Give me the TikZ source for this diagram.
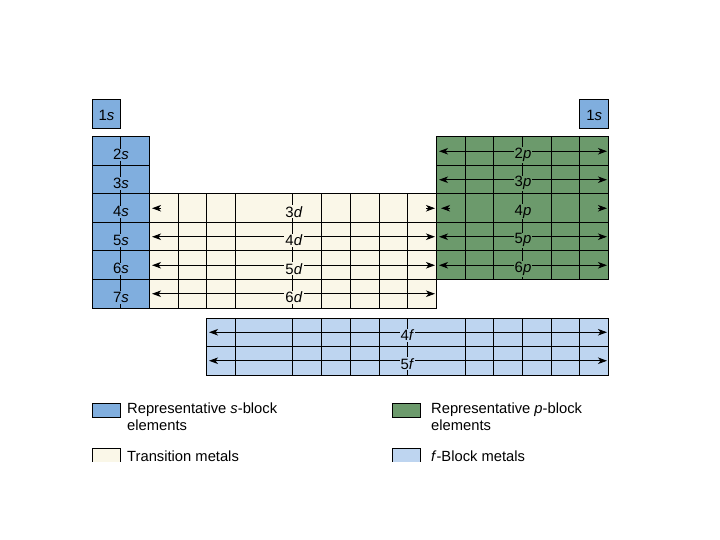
\documentclass[tikz,border=0pt]{standalone}
\usepackage{fontspec}
\setmainfont{Liberation Sans}
\usepackage{xcolor}
\definecolor{sblue}{RGB}{128,174,222}
\definecolor{pgreen}{RGB}{108,154,108}
\definecolor{dcream}{RGB}{250,247,232}
\definecolor{fblue}{RGB}{190,213,240}
\usepackage{tikz}
\usetikzlibrary{arrows.meta}

\tikzset{
  orbtip/.tip={Stealth[length=9bp,width=6.5bp,inset=2.5bp]},
  block/.style={draw=black, line width=1bp},
  gridline/.style={black, line width=1bp},
  orb/.style={font=\fontsize{15}{17}\selectfont, inner sep=1bp},
  orbarrow/.style={line width=0.9bp, orbtip-orbtip},
  orbhead/.style={line width=0.9bp, -orbtip},
  keybox/.style={draw=black, line width=1bp},
  keytext/.style={font=\fontsize{14.8}{17}\selectfont, align=left, anchor=north west, inner sep=0pt},
}

\begin{document}
\begin{tikzpicture}[x=1bp, y=-1bp]
  \useasboundingbox (0,0) rectangle (720,540);

  % Block fills
  \draw[block, fill=sblue]  (92,100) rectangle (120.7,128.5);
  \draw[block, fill=sblue]  (579.9,100) rectangle (608.6,128.5);
  \draw[block, fill=sblue]  (92,137) rectangle (149.4,308);
  \draw[block, fill=dcream] (149.4,194) rectangle (436.4,308);
  \draw[block, fill=pgreen] (436.4,137) rectangle (608.6,279.5);
  \draw[block, fill=fblue]  (206.8,318) rectangle (608.6,375);

  % Grid lines
  \draw[gridline] (92,165.5) -- (149.4,165.5) (436.4,165.5) -- (608.6,165.5);
  \draw[gridline] (92,194) -- (608.6,194) (92,222.5) -- (608.6,222.5) (92,251) -- (608.6,251);
  \draw[gridline] (92,279.5) -- (436.4,279.5);
  \draw[gridline] (206.8,346.5) -- (608.6,346.5);
  \draw[gridline] (120.7,137) -- (120.7,308);
  \foreach \x in {178.1,206.8,235.5,292.9,321.6,350.3,379,407.7}
    \draw[gridline] (\x,194) -- (\x,308);
  \foreach \x in {465.1,493.8,522.5,551.2,579.9}
    \draw[gridline] (\x,137) -- (\x,279.5);
  \foreach \x in {235.5,292.9,321.6,350.3,379,407.7,465.1,493.8,522.5,551.2,579.9}
    \draw[gridline] (\x,318) -- (\x,375);

  % --- s block ---
  \node[orb, fill=sblue] (s1L) at (106.4,115.5) {1\textit{s}};
  \node[orb, fill=sblue] (s1R) at (594.3,115.5) {1\textit{s}};
  \node[orb, fill=sblue] (s2) at (121,154.8) {2\textit{s}};
  \node[orb, fill=sblue] (s3) at (121,183.3) {3\textit{s}};
  \node[orb, fill=sblue] (s4) at (121,211.8) {4\textit{s}};
  \node[orb, fill=sblue] (s5) at (121,240.3) {5\textit{s}};
  \node[orb, fill=sblue] (s6) at (121,268.8) {6\textit{s}};
  \node[orb, fill=sblue] (s7) at (121,297.3) {7\textit{s}};

  % --- d block ---
  \coordinate (d3L) at (152,208.25);  \coordinate (d3Li) at (161,208.25);
  \coordinate (d3R) at (435,208.25);  \coordinate (d3Ri) at (426,208.25);
  \coordinate (d4L) at (152,236.75);  \coordinate (d4R) at (435,236.75);
  \coordinate (d5L) at (152,265.25);  \coordinate (d5R) at (435,265.25);
  \coordinate (d6L) at (152,293.75);  \coordinate (d6R) at (435,293.75);
  \draw[orbhead] (d3Li) -- (d3L);
  \draw[orbhead] (d3Ri) -- (d3R);
  \draw[orbarrow] (d4L) -- (d4R);
  \draw[orbarrow] (d5L) -- (d5R);
  \draw[orbarrow] (d6L) -- (d6R);
  \node[orb, fill=dcream] (d3) at (294,211.8) {3\textit{d}};
  \node[orb, fill=dcream] (d4) at (294,240.3) {4\textit{d}};
  \node[orb, fill=dcream] (d5) at (294,268.8) {5\textit{d}};
  \node[orb, fill=dcream] (d6) at (294,297.3) {6\textit{d}};

  % --- p block ---
  \coordinate (p2L) at (439,151.25);  \coordinate (p2R) at (607,151.25);
  \coordinate (p3L) at (439,179.75);  \coordinate (p3R) at (607,179.75);
  \coordinate (p4L) at (441,208.25);  \coordinate (p4Li) at (450,208.25);
  \coordinate (p4R) at (607,208.25);  \coordinate (p4Ri) at (598,208.25);
  \coordinate (p5L) at (439,236.75);  \coordinate (p5R) at (607,236.75);
  \coordinate (p6L) at (439,265.25);  \coordinate (p6R) at (607,265.25);
  \draw[orbarrow] (p2L) -- (p2R);
  \draw[orbarrow] (p3L) -- (p3R);
  \draw[orbhead] (p4Li) -- (p4L);
  \draw[orbhead] (p4Ri) -- (p4R);
  \draw[orbarrow] (p5L) -- (p5R);
  \draw[orbarrow] (p6L) -- (p6R);
  \node[orb, fill=pgreen] (p2) at (523,154.8) {2\textit{p}};
  \node[orb, fill=pgreen] (p3) at (523,183.3) {3\textit{p}};
  \node[orb, fill=pgreen] (p4) at (523,211.8) {4\textit{p}};
  \node[orb, fill=pgreen] (p5) at (523,240.3) {5\textit{p}};
  \node[orb, fill=pgreen] (p6) at (523,268.8) {6\textit{p}};

  % --- f block ---
  \coordinate (f4L) at (209,332.25);  \coordinate (f4R) at (607,332.25);
  \coordinate (f5L) at (209,360.75);  \coordinate (f5R) at (607,360.75);
  \draw[orbarrow] (f4L) -- (f4R);
  \draw[orbarrow] (f5L) -- (f5R);
  \node[orb, fill=fblue] (f4) at (407.5,335.2) {4\textit{f}};
  \node[orb, fill=fblue] (f5) at (407.5,363.7) {5\textit{f}};

  % --- Legend (bottom row cut off) ---
  \begin{scope}
    \clip (0,0) rectangle (720,461);
    \draw[keybox, fill=sblue]  (92,403) rectangle (120.7,417);
    \node[keytext] (keys) at (127,402.5) {Representative \textit{s}-block\\elements};
    \draw[keybox, fill=pgreen] (392,403) rectangle (420.7,417);
    \node[keytext] (keyp) at (431,402.5) {Representative \textit{p}-block\\elements};
    \draw[keybox, fill=dcream] (92,448) rectangle (120.7,472);
    \node[keytext] (keyd) at (127,450.5) {Transition metals};
    \draw[keybox, fill=fblue]  (392,448) rectangle (420.7,472);
    \node[keytext] (keyf) at (431,450.5) {\textit{f}-Block metals};
  \end{scope}
\end{tikzpicture}
\end{document}
